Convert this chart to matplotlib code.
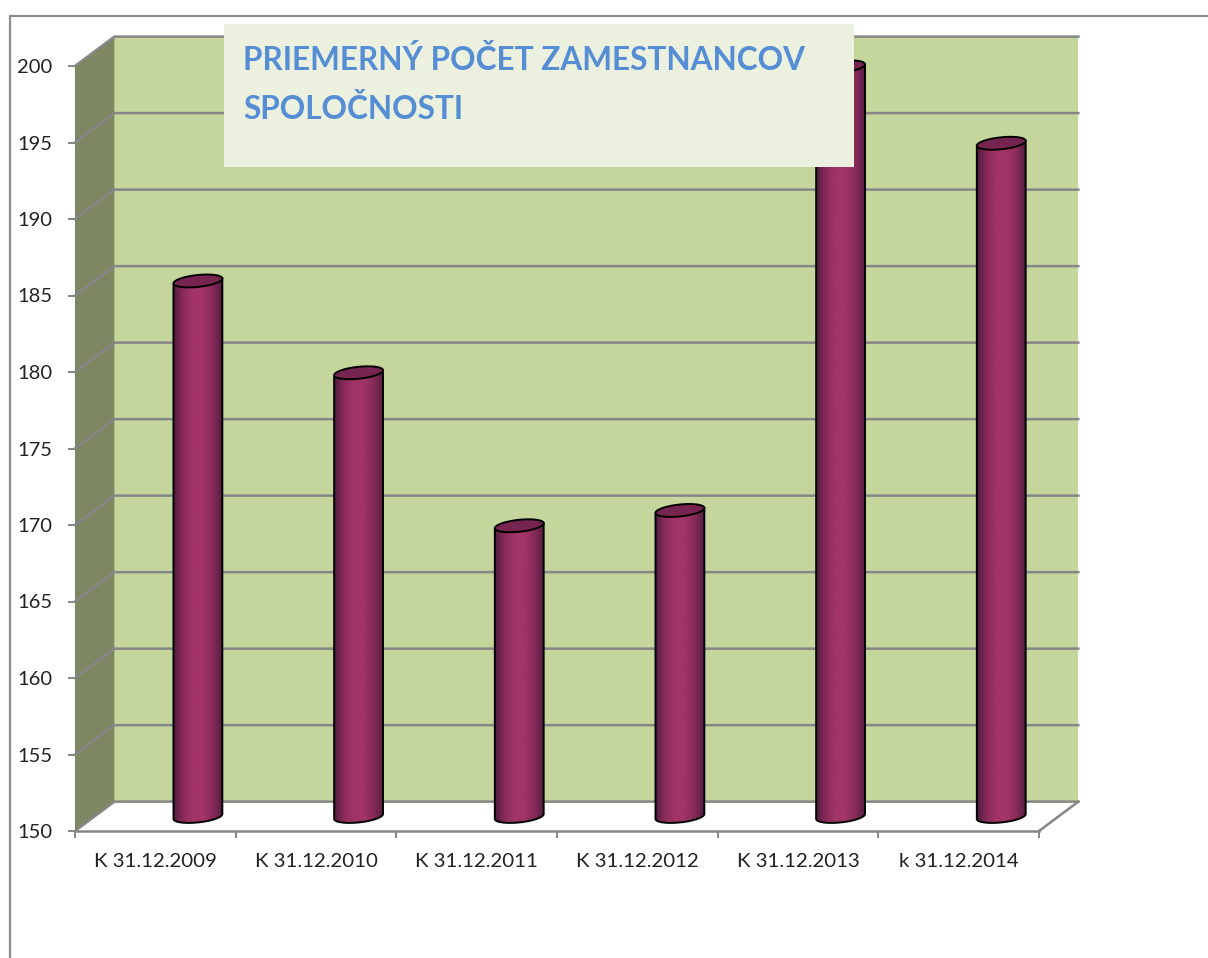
# average headcount chart, fake 3D cylinders like the Excel original

import numpy as np
import matplotlib
matplotlib.use("Agg")
import matplotlib.pyplot as plt
from matplotlib.colors import LinearSegmentedColormap
from matplotlib.lines import Line2D
from matplotlib.patches import PathPatch, Polygon, Rectangle
from matplotlib.path import Path

categories = ["K 31.12.2009", "K 31.12.2010", "K 31.12.2011",
              "K 31.12.2012", "K 31.12.2013", "k 31.12.2014"]
values = [185, 179, 169, 170, 199, 194]
y_ticks = [150, 155, 160, 165, 170, 175, 180, 185, 190, 195, 200]
title_lines = "PRIEMERNÝ POČET ZAMESTNANCOV\nSPOLOČNOSTI"

W, H = 1208, 958
GRID = "#868686"

plt.rcParams["font.family"] = ["Lato", "DejaVu Sans"]
fig = plt.figure(figsize=(W / 100, H / 100), dpi=100, facecolor="white")
ax = fig.add_axes([75 / W, 1 - 831 / H, 964 / W, 765 / H])
ax.set_xlim(0, len(categories))
ax.set_ylim(y_ticks[0], y_ticks[-1])
ax.patch.set_visible(False)

# depth of the fake 3D box, in data units
dx = 0.245
dy = 1.92
y0, y1 = y_ticks[0], y_ticks[-1]
n = len(categories)

# walls
ax.add_patch(Rectangle((dx, y0 + dy), n, y1 - y0, fc="#c4d69b", ec="none", zorder=1, clip_on=False))
ax.add_patch(Polygon([(0, y0), (dx, y0 + dy), (dx, y1 + dy), (0, y1)],
                     fc="#7d8762", ec="none", zorder=1.5, clip_on=False))

# gridlines run along the side wall, then across the back
for t in y_ticks:
    ax.plot([0, dx, n + dx], [t, t + dy, t + dy], color=GRID, lw=1.8, zorder=2,
            clip_on=False, solid_joinstyle="miter")
ax.plot([n, n + dx], [y0, y0 + dy], color=GRID, lw=1.8, zorder=2, clip_on=False)

# cylinders
bar_cmap = LinearSegmentedColormap.from_list(
    "cyl", ["#4f1d3e", "#8a2b5c", "#a23468", "#a23468", "#8a2b5c", "#571f42"])
half_w = 0.152
bar_off = 0.265
bar_dy = 0.95
ell_b = 0.39
ell_tilt = 0.16
t_lo = np.linspace(np.pi, 2 * np.pi, 60)
t_all = np.linspace(0, 2 * np.pi, 120)

for i, v in enumerate(values):
    cx = i + 0.5 + bar_off
    top = v + bar_dy
    base = y0 + bar_dy

    def ell(t, yc):
        return cx + half_w * np.cos(t), yc + ell_b * np.sin(t) + ell_tilt * np.cos(t)

    # body outline: down the left side, along the lower arc, up the right side
    bx, by = ell(t_lo, base)
    tx, ty = ell(np.array([0.0, np.pi]), top)
    body = Path(np.column_stack([np.r_[tx[1], bx, tx[0], tx[1]],
                                 np.r_[ty[1], by, ty[0], ty[1]]]), closed=False)
    im = ax.imshow(np.linspace(0, 1, 128).reshape(1, -1), cmap=bar_cmap, aspect="auto",
                   extent=(cx - half_w, cx + half_w, base - 1.5, top + 1),
                   interpolation="bilinear", zorder=3)
    patch = PathPatch(body, fc="none", ec="black", lw=1.4, zorder=3.1, clip_on=False)
    ax.add_patch(patch)
    im.set_clip_path(patch)

    ex, ey = ell(t_all, top)
    ax.fill(ex, ey, fc="#762450", ec="black", lw=1.4, zorder=3.2, clip_on=False)

ax.set_xlim(0, n)
ax.set_ylim(y0, y1)

# axes
for side in ["top", "right", "left"]:
    ax.spines[side].set_visible(False)
ax.spines["bottom"].set_color(GRID)
ax.spines["bottom"].set_linewidth(1.8)
ax.spines["bottom"].set_zorder(2.5)
ax.set_yticks(y_ticks)
ax.set_xticks(np.arange(n + 1))
ax.set_xticks(np.arange(n) + 0.5, minor=True)
ax.set_xticklabels([])
ax.set_xticklabels(categories, minor=True)
ax.tick_params(axis="x", which="major", length=5, width=1.4, color=GRID)
ax.tick_params(axis="x", which="minor", length=0, pad=15.5, labelsize=14.7, labelcolor="#222222")
ax.tick_params(axis="y", length=5, width=1.4, color=GRID, pad=11.5, labelsize=14.5, labelcolor="#222222")

# outer frame of the screenshot, cut off right and below
fig.add_artist(Line2D([10 / W, 10 / W, 1], [0, 1 - 16 / H, 1 - 16 / H], color="#8c8c8c", lw=1.6))

# title box sits on top of the plot
fig.add_artist(Rectangle((224 / W, 1 - 167 / H), 630 / W, 143 / H, fc="#ebf0df", ec="none",
                         transform=fig.transFigure, zorder=5))
fig.text(243 / W, 1 - 45 / H, title_lines, color="#558ed5", fontsize=22.7, fontweight="bold",
         va="top", ha="left", linespacing=1.75, zorder=6)

fig.savefig("out.png", dpi=100)
